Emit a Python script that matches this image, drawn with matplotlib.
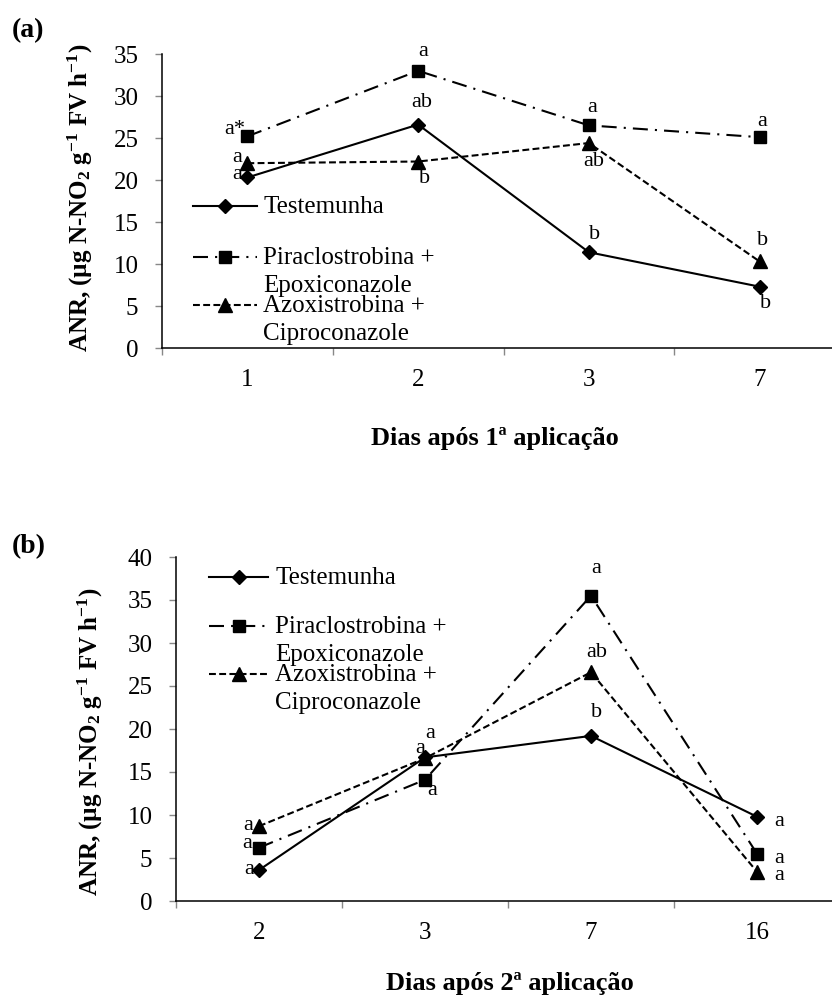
import numpy as np
import matplotlib
matplotlib.use('Agg')
import matplotlib.pyplot as plt
from matplotlib.lines import Line2D

plt.rcParams['font.family'] = ['Liberation Serif', 'DejaVu Serif']
plt.rcParams['mathtext.fontset'] = 'custom'
plt.rcParams['mathtext.rm'] = 'Liberation Serif'
plt.rcParams['mathtext.it'] = 'Liberation Serif:italic'
plt.rcParams['mathtext.bf'] = 'Liberation Serif:bold'

# ---- data ----
names = ['Testemunha', 'Piraclostrobina +\nEpoxiconazole', 'Azoxistrobina +\nCiproconazole']

days_a = ['1', '2', '3', '7']
test_a = [20.3, 26.6, 11.4, 7.3]
pira_a = [25.2, 33.0, 26.5, 25.1]
azox_a = [22.0, 22.2, 24.4, 10.3]
let_test_a = ['a', 'ab', 'b', 'b']
let_pira_a = ['a*', 'a', 'a', 'a']
let_azox_a = ['a', 'b', 'ab', 'b']

days_b = ['2', '3', '7', '16']
test_b = [3.6, 16.7, 19.2, 9.8]
pira_b = [6.2, 14.1, 35.5, 5.5]
azox_b = [8.7, 16.6, 26.6, 3.4]
let_test_b = ['a', 'a', 'b', 'a']
let_pira_b = ['a', 'a', 'a', 'a']
let_azox_b = ['a', 'a', 'ab', 'a']

# label offsets in pixels (dx right, dy down) from marker to text baseline
off_test_a = [(-10, 2), (4, -18), (6, -13), (6, 21)]
off_pira_a = [(-13, -2), (5, -15), (3, -13), (3, -11)]
off_azox_a = [(-10, -1), (6, 21), (5, 23), (3, -16)]
off_test_b = [(-10, 4), (-5, -4), (6, -19), (22, 9)]
off_pira_b = [(-12, 0), (7, 15), (5, -23), (22, 9)]
off_azox_b = [(-11, 4), (5, -20), (6, -15), (22, 8)]

W, H = 832, 997
fig = plt.figure(figsize=(W / 100, H / 100), dpi=100)


def fx(px):
    return px / W


def fy(py):
    return 1 - py / H


styles = [
    dict(ls='-', marker='D', ms=6.8),
    dict(ls=(0, (7.2, 3.4, 1, 3.4)), marker='s', ms=9.2),
    dict(ls=(0, (3.3, 1.6)), marker='^', ms=10),
]


def panel(box, days, vals, lets, offs, ymax, legend_pos):
    left, top, right, bottom = box
    ax = fig.add_axes([fx(left), fy(bottom), fx(right) - fx(left), (bottom - top) / H])
    x = np.arange(len(days))
    for v, l, o, st in zip(vals, lets, offs, styles):
        ax.plot(x, v, color='black', lw=1.5, linestyle=st['ls'], marker=st['marker'],
                ms=st['ms'], mfc='black', mec='black', clip_on=False)
        for xi, yi, t, (dx, dy) in zip(x, v, l, o):
            ax.annotate(t, (xi, yi), xytext=(dx * 0.72, -dy * 0.72), textcoords='offset points',
                        ha='center', va='baseline', fontsize=16)
    ax.set_xlim(-0.5, len(days) - 0.5)
    ax.set_ylim(0, ymax)
    ax.set_yticks(np.arange(0, ymax + 1, 5))
    ax.set_xticks(x)
    ax.set_xticklabels(days)
    ax.set_xticks(np.arange(-0.5, len(days), 1), minor=True)
    ax.tick_params(axis='x', which='major', length=0, labelsize=18, pad=15)
    ax.tick_params(axis='x', which='minor', length=5, color='#888888', width=1)
    ax.tick_params(axis='y', length=5, color='#888888', width=1, labelsize=18, pad=12)
    for s in ['top', 'right']:
        ax.spines[s].set_visible(False)
    for s in ['left', 'bottom']:
        ax.spines[s].set_linewidth(1.1)

    # legend, handles aligned to the first text line
    hx0, hx1, tx, rows = legend_pos
    for name, hy, st in zip(names, rows, styles):
        fig.add_artist(Line2D([fx(hx0), fx((hx0 + hx1) / 2), fx(hx1)], [fy(hy)] * 3,
                              transform=fig.transFigure, color='black', lw=1.5,
                              linestyle=st['ls'], marker=st['marker'], ms=st['ms'],
                              markevery=[1]))
        for i, line in enumerate(name.split('\n')):
            fig.text(fx(tx), fy(hy + 7 + 28 * i), line, fontsize=18, va='baseline', ha='left')
    return ax


panel((162, 54, 845, 348), days_a, [test_a, pira_a, azox_a],
      [let_test_a, let_pira_a, let_azox_a], [off_test_a, off_pira_a, off_azox_a],
      35, (193, 257, 263, [206, 257, 305]))
panel((176, 557, 840, 901), days_b, [test_b, pira_b, azox_b],
      [let_test_b, let_pira_b, let_azox_b], [off_test_b, off_pira_b, off_azox_b],
      40, (209, 268, 275, [577, 626, 674]))

ylab = 'ANR, (µg N-NO$_\\mathbf{2}$ g$^{\\mathbf{-1}}$ FV h$^{\\mathbf{-1}}$)'
fig.text(fx(80), fy(198), ylab, rotation=90, ha='center', va='center',
         fontsize=18, fontweight='bold')
fig.text(fx(90), fy(742), ylab, rotation=90, ha='center', va='center',
         fontsize=18, fontweight='bold')

fig.text(fx(495), fy(445), 'Dias após 1ª aplicação', ha='center', va='baseline',
         fontsize=19, fontweight='bold')
fig.text(fx(510), fy(990), 'Dias após 2ª aplicação', ha='center', va='baseline',
         fontsize=19, fontweight='bold')

fig.text(fx(12), fy(31), '(a)', ha='left', va='center', fontsize=20, fontweight='bold')
fig.text(fx(12), fy(547), '(b)', ha='left', va='center', fontsize=20, fontweight='bold')

fig.savefig('out.png', dpi=100)
